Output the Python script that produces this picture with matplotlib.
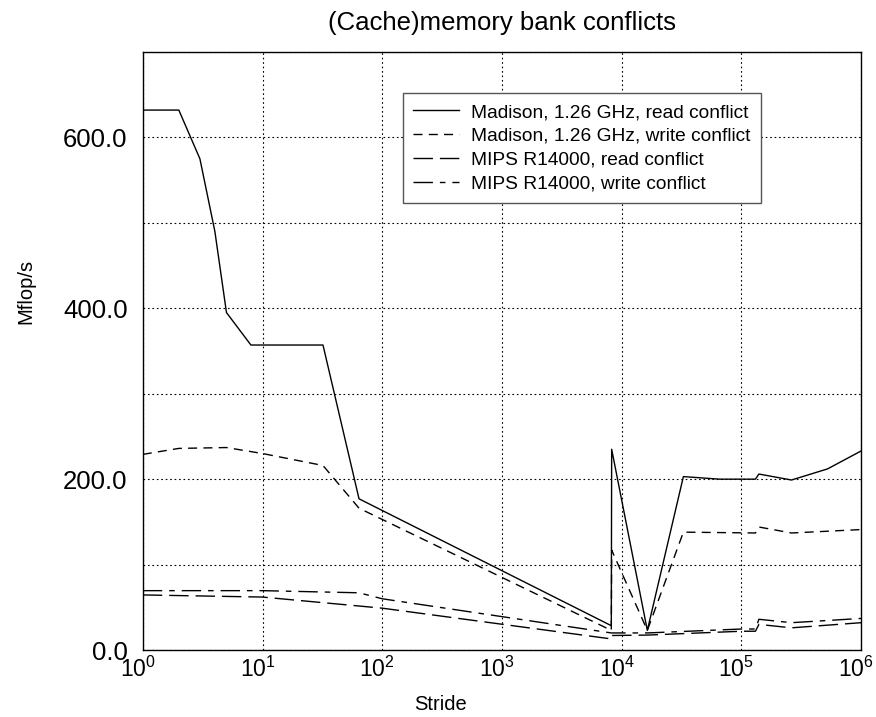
import matplotlib
matplotlib.use("Agg")
import matplotlib.pyplot as plt
from matplotlib.transforms import ScaledTranslation

plt.rcParams['font.family'] = ['Liberation Sans', 'DejaVu Sans']

# Madison read conflict
mad_r_x = [1, 2, 3, 4, 5, 8, 32, 64, 8192, 8250, 16384, 32768, 65536, 131072, 140000, 262144, 524288, 1000000]
mad_r_y = [632, 632, 575, 490, 395, 357, 357, 177, 28.5, 235, 23, 203, 200, 200, 206, 199, 212, 233]

# Madison write conflict
mad_w_x = [1, 2, 5, 10, 32, 64, 8192, 8250, 16384, 32768, 131072, 140000, 262144, 1000000]
mad_w_y = [229, 236, 237, 230, 216, 166, 23, 117, 23, 138, 137, 144, 137, 141]

# MIPS R14000 read conflict
mips_r_x = [1, 10, 100, 8192, 8250, 16384, 100000, 131072, 140000, 262144, 1000000]
mips_r_y = [64.5, 62, 49, 13, 17, 17.5, 22, 22, 30, 26, 32]

# MIPS R14000 write conflict
mips_w_x = [1, 10, 64, 100, 8192, 8250, 16384, 100000, 131072, 140000, 262144, 1000000]
mips_w_y = [69.5, 69.5, 67, 60, 20, 20, 20, 24.6, 24.6, 36, 32, 37]

labels = ["Madison, 1.26 GHz, read conflict",
          "Madison, 1.26 GHz, write conflict",
          "MIPS R14000, read conflict",
          "MIPS R14000, write conflict"]

fig = plt.figure(figsize=(8.76, 7.17), dpi=100)
ax = fig.add_axes([0.163, 0.0934, 0.82, 0.8341])

lw = 1.0
ax.plot(mad_r_x, mad_r_y, color='black', lw=lw, linestyle='-', label=labels[0])
ax.plot(mad_w_x, mad_w_y, color='black', lw=lw, linestyle=(0, (6.5, 4.5)), label=labels[1])
ax.plot(mips_r_x, mips_r_y, color='black', lw=lw, linestyle=(0, (14, 5)), label=labels[2])
ax.plot(mips_w_x, mips_w_y, color='black', lw=lw, linestyle=(0, (14, 5, 4, 5)), label=labels[3])

ax.set_xscale('log')
ax.set_xlim(1, 1e6)
ax.set_ylim(0, 700)
ax.set_yticks([0, 200, 400, 600])
ax.set_yticklabels(['0.0', '200.0', '400.0', '600.0'])
ax.set_yticks([100, 300, 500, 700], minor=True)
ax.set_xticks([10**i for i in range(7)])
ax.xaxis.set_minor_locator(matplotlib.ticker.NullLocator())
ax.grid(True, which='both', axis='y', color='black', linestyle=(0, (1.5, 2.5)), lw=0.8)
ax.grid(True, which='major', axis='x', color='black', linestyle=(0, (1.5, 2.5)), lw=0.8)
ax.tick_params(which='both', length=0)
ax.tick_params(axis='y', pad=11, labelsize=18.5)
ax.tick_params(axis='x', pad=5, labelsize=16.5)
for s in ax.spines.values():
    s.set_linewidth(1.0)

shift = ScaledTranslation(-5 / 100, 0, fig.dpi_scale_trans)
for lab in ax.get_xticklabels():
    lab.set_transform(lab.get_transform() + shift)

ax.set_xlabel("Stride", fontsize=14.5)
ax.xaxis.set_label_coords(0.414, -0.075)
ax.set_ylabel("Mflop/s", fontsize=14.5)
ax.yaxis.set_label_coords(-0.15, 0.60)
ax.set_title("(Cache)memory bank conflicts", fontsize=18.5, pad=16)

leg = ax.legend(loc='upper left', bbox_to_anchor=(0.362, 0.931), fontsize=13.8,
                frameon=True, fancybox=False, framealpha=1, edgecolor='#555555',
                handlelength=2.4, borderpad=0.55, labelspacing=0.33, handletextpad=0.6,
                borderaxespad=0)
leg.get_frame().set_linewidth(1.0)

fig.savefig("out.png", dpi=100)
